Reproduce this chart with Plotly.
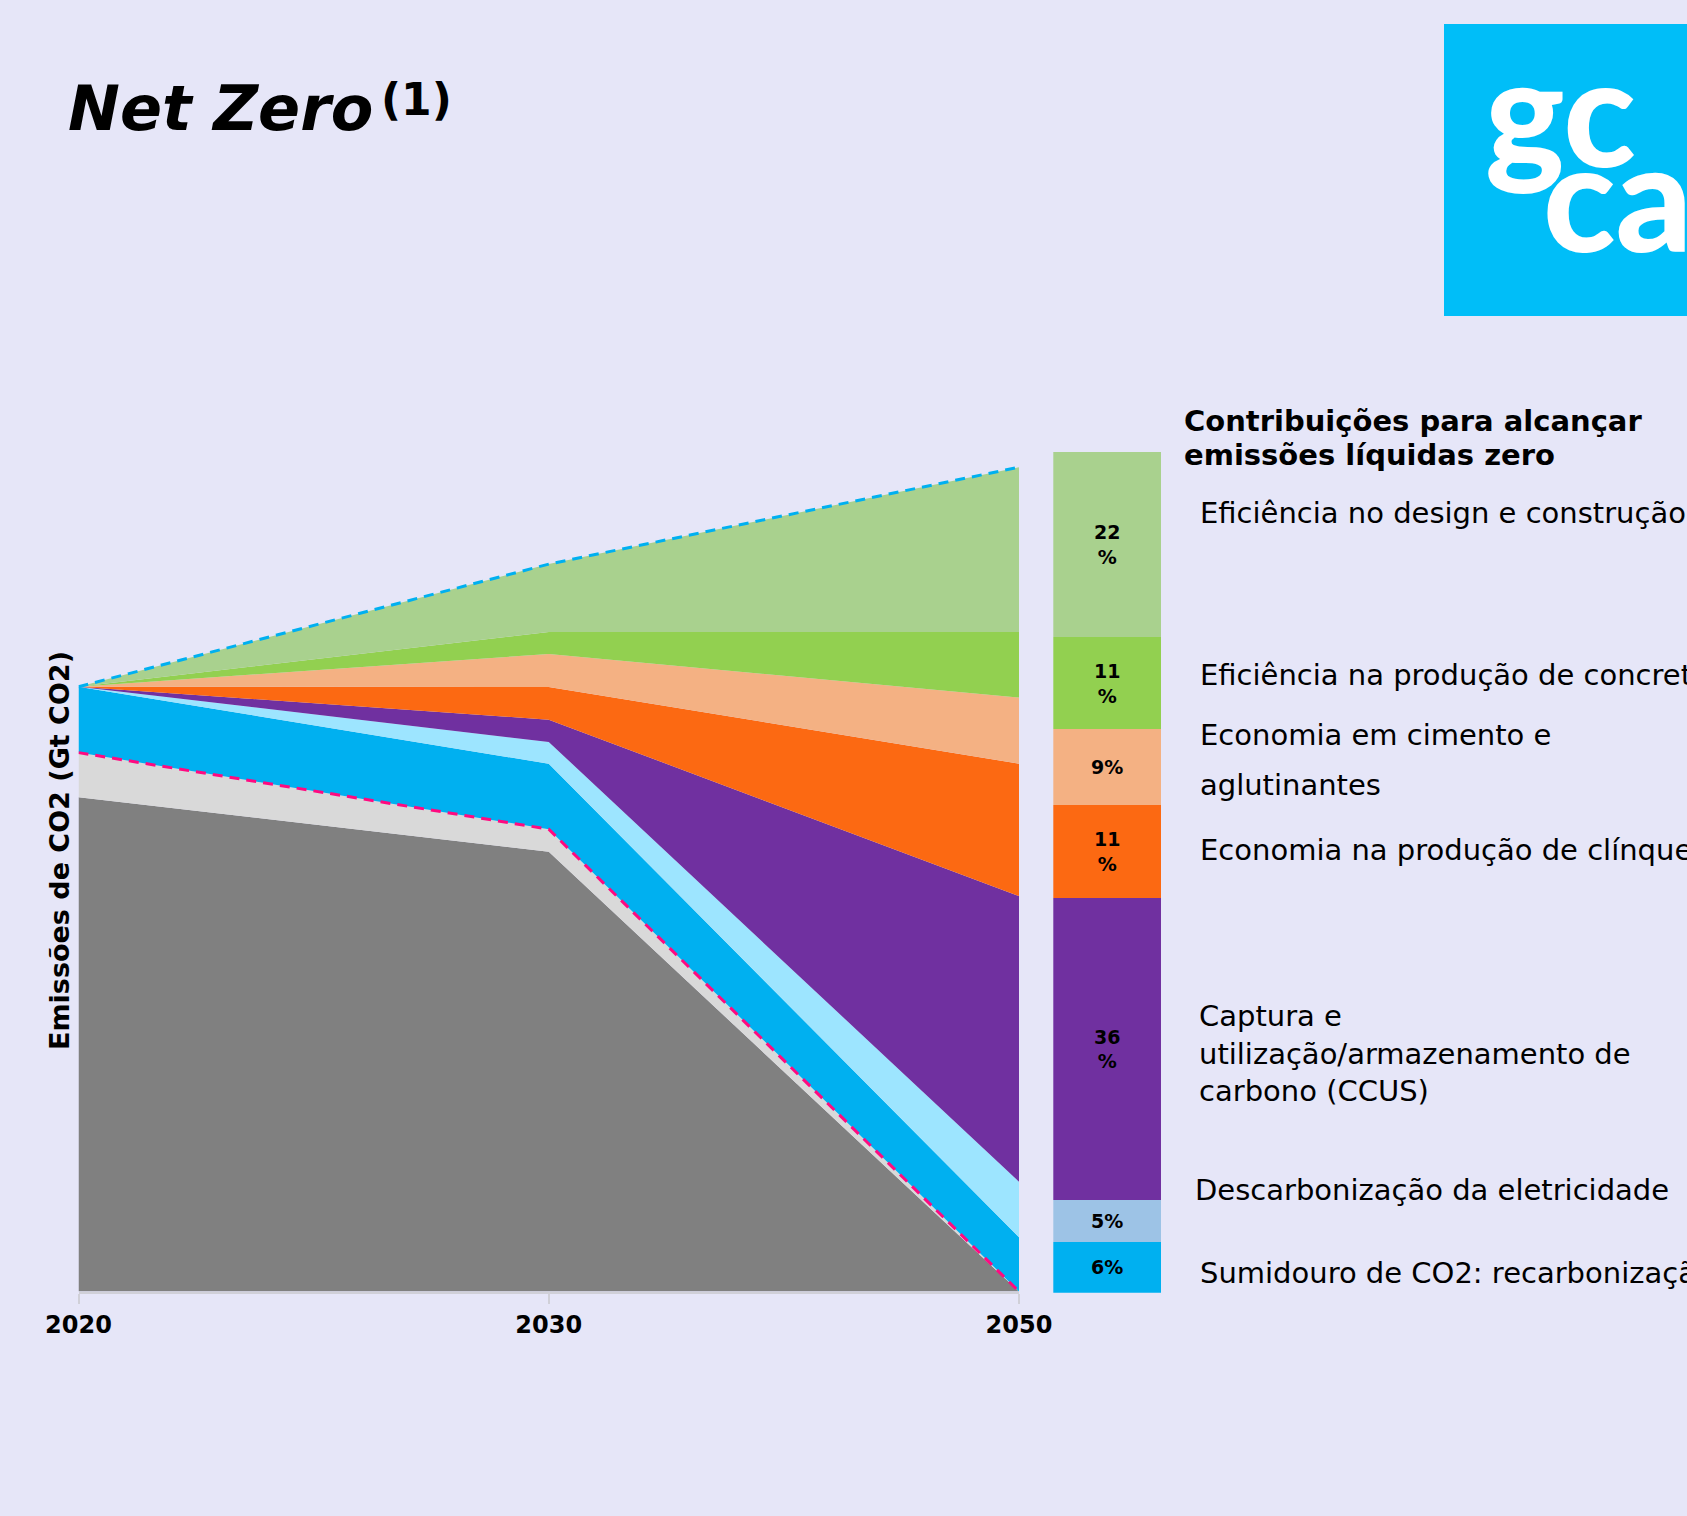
import numpy as np
import plotly.graph_objects as go

# ---- data -------------------------------------------------------------
years = ["2020", "2030", "2050"]

# stacked layers, bottom to top (Gt CO2)
remaining = [2.040, 1.815, 0.0]
residual = [0.184, 0.093, 0.0]
recarbonation = [0.272, 0.270, 0.224]
electricity = [0.0, 0.090, 0.229]
ccus = [0.0, 0.092, 1.179]
clinker = [0.0, 0.135, 0.546]
cement_binders = [0.0, 0.136, 0.273]
concrete = [0.0, 0.091, 0.271]
design = [0.0, 0.280, 0.680]

# share of each lever in the 2050 bar (%), bottom to top
share_labels = [
    "Sumidouro de CO2: recarbonização",
    "Descarbonização da eletricidade",
    "Captura e utilização/armazenamento de carbono (CCUS)",
    "Economia na produção de clínquer",
    "Economia em cimento e aglutinantes",
    "Eficiência na produção de concreto",
    "Eficiência no design e construção",
]
share_values = [6, 5, 36, 11, 9, 11, 22]

# ---- styling ----------------------------------------------------------
W, H = 1687, 1516
BG = "#E6E6F8"
FONT = "DejaVu Sans"


def fx(px):
    return px / W


def fy(py):
    return 1 - py / H


area_layers = [
    ("Emissões remanescentes", remaining, "#808080"),
    ("Emissões residuais", residual, "#D9D9D9"),
    ("Sumidouro de CO2: recarbonização", recarbonation, "#00B0F0"),
    ("Descarbonização da eletricidade", electricity, "#9DE5FF"),
    ("CCUS", ccus, "#7030A0"),
    ("Economia na produção de clínquer", clinker, "#FC6912"),
    ("Economia em cimento e aglutinantes", cement_binders, "#F4B183"),
    ("Eficiência na produção de concreto", concrete, "#92D050"),
    ("Eficiência no design e construção", design, "#A9D18E"),
]
bar_colors = ["#00B0F0", "#9DC3E6", "#7030A0", "#FC6912", "#F4B183", "#92D050", "#A9D18E"]

fig = go.Figure()

for name, vals, color in area_layers:
    fig.add_trace(go.Scatter(
        x=years, y=vals, name=name, mode="lines",
        stackgroup="emissions", line=dict(width=0, color=color),
        fillcolor=color, showlegend=False, hoverinfo="skip",
        xaxis="x", yaxis="y",
    ))

# business-as-usual envelope and net emissions path
bau_total = np.sum([v for _, v, _ in area_layers], axis=0)
net_path = np.array(remaining) + np.array(residual)

fig.add_trace(go.Scatter(
    x=years, y=bau_total, mode="lines", showlegend=False, hoverinfo="skip",
    line=dict(color="#00B0F0", width=3, dash="10px,7px"),
))
fig.add_trace(go.Scatter(
    x=years, y=net_path, mode="lines", showlegend=False, hoverinfo="skip",
    line=dict(color="#FF0A80", width=3, dash="10px,7px"),
))

# contribution bar
for lab, val, color in zip(share_labels, share_values, bar_colors):
    txt = f"{val}<br>%" if val >= 10 else f"{val}%"
    fig.add_trace(go.Bar(
        x=[0], y=[val], name=lab, marker=dict(color=color, line=dict(width=0)),
        width=1, text=[f"<b>{txt}</b>"], textposition="inside",
        insidetextanchor="middle", textangle=0,
        textfont=dict(family=FONT, size=19, color="#000000"),
        showlegend=False, hoverinfo="skip", xaxis="x2", yaxis="y2",
    ))

ymax = (1291.5 - 452) / 242.3

fig.update_layout(
    width=W, height=H,
    margin=dict(l=0, r=0, t=0, b=0, autoexpand=False),
    paper_bgcolor=BG, plot_bgcolor="rgba(0,0,0,0)",
    barmode="stack",
    xaxis=dict(
        domain=[fx(78.5), fx(1019)], type="category", range=[0, 2],
        tickvals=years, ticktext=[f"<b>{y}</b>" for y in years],
        tickfont=dict(family=FONT, size=24, color="#000000"),
        ticks="outside", ticklen=10, tickwidth=1.5, tickcolor="#D0D0D8",
        ticklabelstandoff=1,
        showline=True, linecolor="#D0D0D8", linewidth=2,
        showgrid=False, zeroline=False, fixedrange=True, automargin=False,
    ),
    yaxis=dict(
        domain=[fy(1291.5), fy(452)], range=[0, ymax],
        showticklabels=False, ticks="", showgrid=False, zeroline=False,
        showline=False, fixedrange=True, automargin=False,
    ),
    xaxis2=dict(
        domain=[fx(1053.3), fx(1161)], range=[-0.5, 0.5], anchor="y2",
        visible=False, fixedrange=True,
    ),
    yaxis2=dict(
        domain=[fy(1292.7), fy(452)], range=[0, 100], anchor="x2",
        visible=False, fixedrange=True,
    ),
)

# logo block
fig.add_shape(type="rect", xref="paper", yref="paper",
              x0=fx(1444), x1=fx(1720), y0=fy(24), y1=fy(316),
              fillcolor="#00BEF8", line=dict(width=0), layer="above")

annotations = []


def note(text, x, y, size, xanchor="left", yanchor="middle", color="#000000",
         family=FONT, angle=0, align="left", weight=None):
    font = dict(family=family, size=size, color=color)
    if weight is not None:
        font["weight"] = weight
    annotations.append(dict(
        text=text, x=fx(x), y=fy(y), xref="paper", yref="paper",
        xanchor=xanchor, yanchor=yanchor, showarrow=False, align=align,
        textangle=angle, font=font,
    ))


# logo letters, one word per row
note("gc", 1483, 109, 150, color="#FFFFFF", family="Lato Black, Lato", weight=900)
note("ca", 1541, 194, 150, color="#FFFFFF", family="Lato Black, Lato", weight=900)

# title
note("<b><i>Net Zero</i></b>", 66, 109, 62)
note("<b>(1)</b>", 379, 99, 44)

# axis title
note("<b>Emissões de CO2 (Gt CO2)</b>", 60, 851, 27, xanchor="center", angle=-90)

# legend heading and lever labels
note("<b>Contribuições para alcançar</b>", 1182, 421, 29)
note("<b>emissões líquidas zero</b>", 1182, 455, 29)
note("Eficiência no design e construção", 1198, 513, 29)
note("Eficiência na produção de concreto", 1198, 675, 29)
note("Economia em cimento e", 1198, 735, 29)
note("aglutinantes", 1198, 785, 29)
note("Economia na produção de clínquer", 1198, 850, 29)
note("Captura e<br>utilização/armazenamento de<br>carbono (CCUS)", 1197, 1053, 29)
note("Descarbonização da eletricidade", 1193, 1190, 29)
note("Sumidouro de CO2: recarbonização", 1198, 1273, 29)

fig.update_layout(annotations=annotations)

fig.write_html("out.html")
